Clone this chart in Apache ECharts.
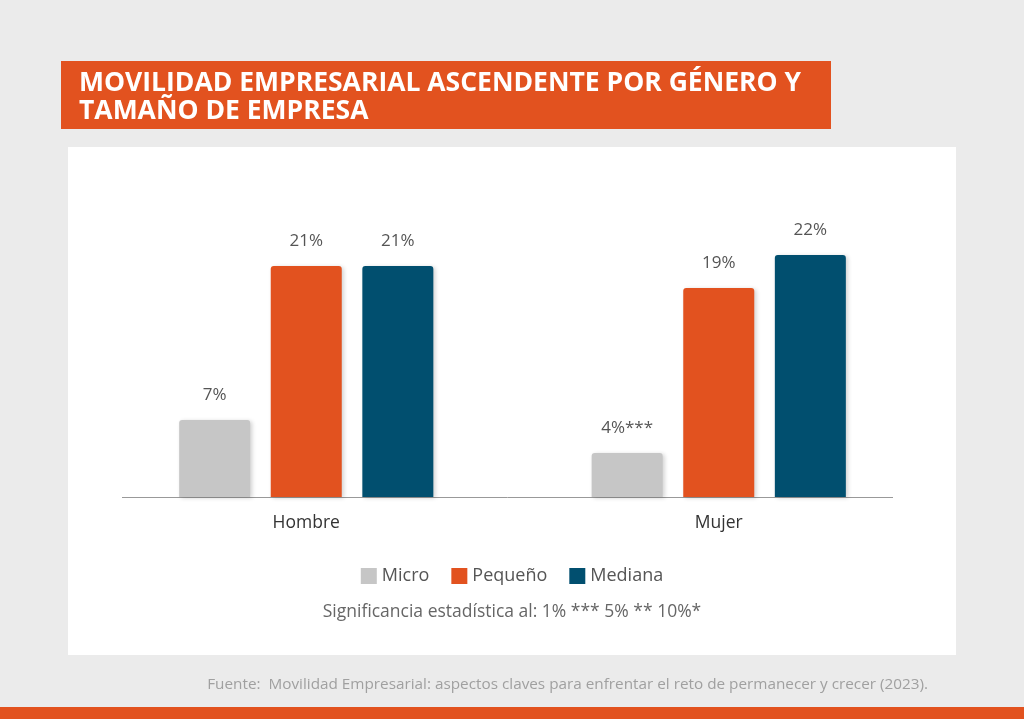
<!DOCTYPE html>
<html>
<head>
<meta charset="utf-8" />
<title>Movilidad empresarial ascendente</title>
<style type="text/css">
html, body { margin: 0; padding: 0; background: #ebebeb; }
#chart { width: 1024px; height: 719px; }
</style>
<script src="https://cdn.jsdelivr.net/npm/echarts@6/dist/echarts.min.js"></script>
</head>
<body>
<div id="chart"></div>
<script type="text/javascript">
// datos del gráfico
var categorias = ['Hombre', 'Mujer'];
var series = ['Micro', 'Pequeño', 'Mediana'];
var micro = [7, 4];
var pequeno = [21, 19];
var mediana = [21, 22];
var etiquetasMicro = ['7%', '4%***'];
var etiquetasPequeno = ['21%', '19%'];
var etiquetasMediana = ['21%', '22%'];
var colores = ['#c6c6c6', '#e2521f', '#014f6f'];

var fuente = '"Open Sans", Lato, sans-serif';
var myChart = echarts.init(document.getElementById('chart'));

function serie(nombre, datos, etiquetas, color) {
    return {
        name: nombre,
        type: 'bar',
        barWidth: 71,
        barGap: '29%',
        data: datos,
        itemStyle: {
            color: color,
            borderRadius: [3, 3, 0, 0],
            shadowBlur: 4,
            shadowOffsetX: 2,
            shadowOffsetY: 1,
            shadowColor: 'rgba(0,0,0,0.18)'
        },
        label: {
            show: true,
            position: 'top',
            distance: 16,
            color: '#555',
            fontSize: 17,
            fontFamily: fuente,
            formatter: function (p) { return etiquetas[p.dataIndex]; }
        }
    };
}

var option = {
    backgroundColor: '#ebebeb',
    animation: false,
    textStyle: { fontFamily: fuente },
    graphic: [
        // cabecera naranja
        { type: 'rect', shape: { x: 61, y: 61, width: 770, height: 68 }, style: { fill: '#e2521f' }, z: 0 },
        { type: 'text', left: 79, top: 69, style: {
            text: 'MOVILIDAD EMPRESARIAL ASCENDENTE POR GÉNERO Y\nTAMAÑO DE EMPRESA',
            fill: '#fff', font: 'bold 26.5px "Open Sans", sans-serif', lineHeight: 28 }, z: 2 },
        // panel blanco
        { type: 'rect', shape: { x: 68, y: 147, width: 888, height: 508 }, style: { fill: '#ffffff' }, z: -1 },
        // línea base
        { type: 'line', shape: { x1: 122, y1: 497.5, x2: 893, y2: 497.5 }, style: { stroke: '#999', lineWidth: 1 }, z: 1 },
        { type: 'text', left: 'center', top: 603, style: {
            text: 'Significancia estadística al: 1% *** 5% ** 10%*',
            fill: '#666', font: '17.5px "Open Sans", sans-serif' }, z: 2 },
        // fuente
        { type: 'text', right: 96, top: 677, style: {
            text: 'Fuente:  Movilidad Empresarial: aspectos claves para enfrentar el reto de permanecer y crecer (2023).',
            fill: '#a0a0a0', font: '15.3px "Open Sans", sans-serif' }, z: 2 },
        // barra inferior
        { type: 'rect', shape: { x: 0, y: 707, width: 1024, height: 12 }, style: { fill: '#e2521f' }, z: 0 }
    ],
    legend: {
        data: series,
        top: 562,
        left: 'center',
        itemWidth: 16,
        itemHeight: 16,
        itemGap: 22,
        icon: 'rect',
        textStyle: { color: '#555', fontSize: 18, fontFamily: fuente }
    },
    color: colores,
    grid: { left: 100, right: 99, top: 167, bottom: 222 },
    xAxis: {
        type: 'category',
        data: categorias,
        axisLine: { show: false },
        axisTick: { show: false },
        axisLabel: { color: '#333', fontSize: 17.5, margin: 17, fontFamily: fuente }
    },
    yAxis: {
        type: 'value',
        min: 0,
        max: 30,
        show: false,
        splitLine: { show: false }
    },
    series: [
        serie(series[0], micro, etiquetasMicro, colores[0]),
        serie(series[1], pequeno, etiquetasPequeno, colores[1]),
        serie(series[2], mediana, etiquetasMediana, colores[2])
    ]
};

myChart.setOption(option);
</script>
</body>
</html>
